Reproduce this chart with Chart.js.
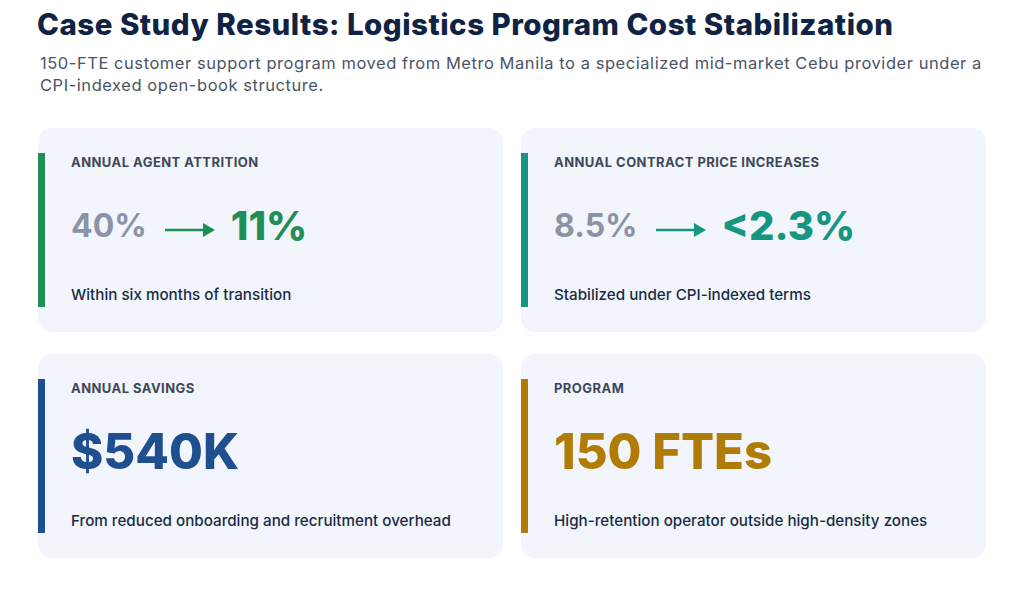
<!DOCTYPE html>
<html>
<head>
<meta charset="utf-8">
<script src="https://cdn.jsdelivr.net/npm/chart.js@4.4.1/dist/chart.umd.min.js"></script>
<style>
  html, body { margin: 0; padding: 0; background: #ffffff; }
  body { width: 1024px; height: 597px; position: relative; overflow: hidden; font-family: Inter, "Open Sans", sans-serif; }
  h1 { position: absolute; left: 37px; top: 6px; margin: 0; font-size: 29.5px; font-weight: 800; color: #0f2444; letter-spacing: 0.5px; white-space: nowrap; }
  .sub { position: absolute; left: 40px; top: 52px; width: 960px; margin: 0; font-size: 16.5px; line-height: 22px; color: #4b5567; letter-spacing: 0.55px; }
  .card { position: absolute; width: 465px; height: 204px; background: #f2f5fb; border-radius: 14px; }
  .bar { position: absolute; left: 0; top: 25px; width: 7px; height: 154px; }
  .label { position: absolute; left: 33px; top: 26px; font-size: 13px; font-weight: 700; color: #3e4859; letter-spacing: 0.45px; white-space: nowrap; }
  .row { position: absolute; left: 33px; top: 72px; height: 50px; display: flex; align-items: center; white-space: nowrap; }
  .from { font-size: 32px; font-weight: 700; color: #8b93a6; }
  .to { font-size: 40px; font-weight: 800; }
  .big { font-size: 49px; font-weight: 800; }
  .arrow { width: 58px; height: 20px; margin: 10px 16px 0 10px; }
  .cap { position: absolute; left: 33px; top: 157px; font-size: 15.2px; font-weight: 500; color: #1b2b45; white-space: nowrap; }
</style>
</head>
<body>
<h1 id="title"></h1>
<p class="sub" id="subtitle"></p>
<div id="cards"></div>
<script>
// Page text
const titleText = 'Case Study Results: Logistics Program Cost Stabilization';
const subtitleText = '150-FTE customer support program moved from Metro Manila to a specialized mid-market Cebu provider under a CPI-indexed open-book structure.';

// Card content
const cardLabels = ['ANNUAL AGENT ATTRITION', 'ANNUAL CONTRACT PRICE INCREASES', 'ANNUAL SAVINGS', 'PROGRAM'];
const beforeValues = ['40%', '8.5%', null, null];
const afterValues = ['11%', '<2.3%', '$540K', '150 FTEs'];
const captions = [
    'Within six months of transition',
    'Stabilized under CPI-indexed terms',
    'From reduced onboarding and recruitment overhead',
    'High-retention operator outside high-density zones'
];
const accentColors = ['#1f8f57', '#15977f', '#1f4f8f', '#b17c05'];

// Arrow drawn as a two-point line (start -> end)
const arrowX = [0, 1];
const arrowY = [0, 0];

const cardSpots = [[38, 128], [521, 128], [38, 354], [521, 354]];

document.getElementById('title').textContent = titleText;
document.getElementById('subtitle').textContent = subtitleText;

const holder = document.getElementById('cards');

cardLabels.forEach((label, i) => {
    const card = document.createElement('div');
    card.className = 'card';
    card.style.left = cardSpots[i][0] + 'px';
    card.style.top = cardSpots[i][1] + 'px';

    const bar = document.createElement('div');
    bar.className = 'bar';
    bar.style.background = accentColors[i];
    card.appendChild(bar);

    const lab = document.createElement('div');
    lab.className = 'label';
    lab.textContent = label;
    card.appendChild(lab);

    const row = document.createElement('div');
    row.className = 'row';
    let cv = null;
    if (beforeValues[i]) {
        const from = document.createElement('span');
        from.className = 'from';
        from.textContent = beforeValues[i];
        row.appendChild(from);

        const wrap = document.createElement('div');
        wrap.className = 'arrow';
        cv = document.createElement('canvas');
        wrap.appendChild(cv);
        row.appendChild(wrap);

        const to = document.createElement('span');
        to.className = 'to';
        to.style.color = accentColors[i];
        to.textContent = afterValues[i];
        row.appendChild(to);
    } else {
        const big = document.createElement('span');
        big.className = 'big';
        big.style.color = accentColors[i];
        big.textContent = afterValues[i];
        row.appendChild(big);
    }
    card.appendChild(row);

    const cap = document.createElement('div');
    cap.className = 'cap';
    cap.textContent = captions[i];
    card.appendChild(cap);

    holder.appendChild(card);
    if (cv) drawArrow(cv, accentColors[i]);
});

function drawArrow(canvas, color) {
    new Chart(canvas.getContext('2d'), {
        type: 'scatter',
        data: {
            datasets: [{
                data: arrowX.map((x, k) => ({ x: x, y: arrowY[k] })),
                showLine: true,
                clip: false,
                borderColor: color,
                backgroundColor: color,
                borderWidth: 2.5,
                pointStyle: 'triangle',
                rotation: 90,
                pointRadius: [0, 8],
                pointHoverRadius: [0, 8],
                pointBorderWidth: 0
            }]
        },
        options: {
            responsive: true,
            maintainAspectRatio: false,
            animation: false,
            events: [],
            layout: { padding: { right: 8, left: 0, top: 0, bottom: 0 } },
            plugins: { legend: { display: false }, tooltip: { enabled: false } },
            scales: {
                x: { display: false, min: 0, max: 1 },
                y: { display: false, min: -1, max: 1 }
            }
        }
    });
}
</script>
</body>
</html>
